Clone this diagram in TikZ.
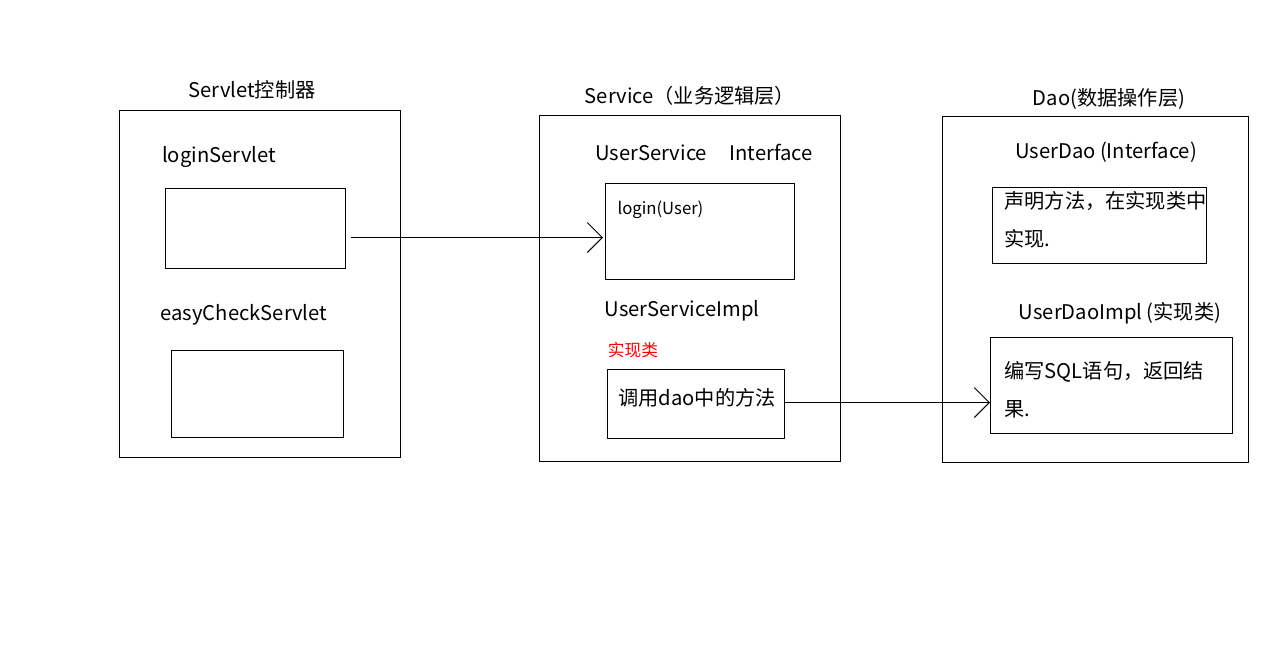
\documentclass[tikz,border=0pt]{standalone}
\usepackage{fontspec}
\setmainfont{Noto Sans CJK SC}
\usetikzlibrary{arrows.meta,calc}

\begin{document}
\begin{tikzpicture}[x=0.02cm,y=-0.02cm,line width=0.6pt,
    every node/.style={inner sep=0pt,font=\fontsize{11.5}{13}\selectfont},
    box/.style={draw,anchor=north west},
    arr/.style={-{Straight Barb[length=0.3cm,width=0.6cm]}}]
		\useasboundingbox (0,0) rectangle (1267,658);
		% Servlet
		\node (ctrltitle) at (252,90) {Servlet控制器};
		\node[box,minimum width=5.62cm,minimum height=6.94cm] (ctrl) at (119,110) {};
		\node (logintitle) at (219,157) {loginServlet};
		\node[box,minimum width=3.6cm,minimum height=1.6cm] (loginbox) at (165,188) {};
		\node (easytitle) at (244,315) {easyCheckServlet};
		\node[box,minimum width=3.44cm,minimum height=1.74cm] (easybox) at (171,350) {};
		% Service
		\node (svctitle) at (690,96) {Service（业务逻辑层）};
		\node[box,minimum width=6.02cm,minimum height=6.92cm] (svc) at (539,115) {};
		\node (ifacetitle) at (704,152) {UserService\hspace{0.45cm}Interface};
		\node[box,minimum width=3.78cm,minimum height=1.92cm] (ifacebox) at (605,183) {};
		\node[anchor=west,font=\fontsize{9.5}{11}\selectfont] (loginop) at (617,210) {login(User)};
		\node (impltitle) at (682,311) {UserServiceImpl};
		\node[red,font=\fontsize{9.5}{11}\selectfont] (impltag) at (633,350) {实现类};
		\node[box,minimum width=3.54cm,minimum height=1.38cm] (implbox) at (607,369) {};
		\node (implop) at (697,398) {调用dao中的方法};
		% Dao
		\node (daotitle) at (1109,99) {Dao(数据操作层)};
		\node[box,minimum width=6.12cm,minimum height=6.92cm] (dao) at (942,116) {};
		\node (daoifacetitle) at (1106,152) {UserDao (Interface)};
		\node[box,minimum width=4.28cm,minimum height=1.52cm] (daobox) at (992,187) {};
		\node[anchor=west] (daoline1) at (1004,201) {声明方法，在实现类中};
		\node[anchor=west] (daoline2) at (1004,239) {实现.};
		\node (daoimpltitle) at (1120,313) {UserDaoImpl (实现类)};
		\node[box,minimum width=4.84cm,minimum height=1.92cm] (daoimplbox) at (990,337) {};
		\node[anchor=west] (sqlline1) at (1004,372) {编写SQL语句，返回结};
		\node[anchor=west] (sqlline2) at (1004,409) {果.};
		% calls
		\draw[arr] ($(loginbox.east)+(5,9)$) coordinate (callstart) -- ($(callstart -| ifacebox.west)+(-2,0)$);
		\draw[arr] ($(implbox.east)+(0,-1.5)$) coordinate (daocall) -- (daocall -| daoimplbox.west);
	\end{tikzpicture}
\end{document}
